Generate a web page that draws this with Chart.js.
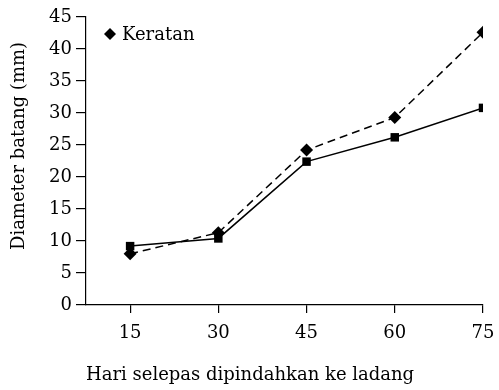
<!DOCTYPE html>
<html>
<head>
<meta charset="utf-8">
<script src="https://cdn.jsdelivr.net/npm/chart.js@4/dist/chart.umd.min.js"></script>
<style>
  html, body { margin: 0; padding: 0; background: #fff; }
  #wrap { width: 499px; height: 390px; position: relative; }
</style>
</head>
<body>
<div id="wrap"><canvas id="c"></canvas></div>
<script>
// data
const days = [15, 30, 45, 60, 75];
const keratan = [8.0, 11.3, 24.2, 29.3, 42.6];
const lain = [9.2, 10.4, 22.4, 26.2, 30.8];
const yTicks = [0, 5, 10, 15, 20, 25, 30, 35, 40, 45];

const FONT = "'DejaVu Serif', serif";
const FS = 18;

// legend inside the plot (only Keratan), and the y title placed like the original
const extras = {
  id: 'extras',
  afterDraw(chart) {
    const ctx = chart.ctx;
    const ds = chart.data.datasets[0];
    const x = chart.chartArea.left + 24, y = 34;
    ctx.save();
    Chart.helpers.drawPoint(ctx, { pointStyle: 'rectRot', radius: 6, rotation: 0, borderWidth: 0 }, x, y);
    ctx.fillStyle = '#000';
    ctx.font = FS + 'px ' + FONT;
    ctx.textBaseline = 'middle';
    ctx.fillText(ds.label, x + 12, y + 1);

    ctx.translate(19, 146);
    ctx.rotate(-Math.PI / 2);
    ctx.textAlign = 'center';
    ctx.fillText('Diameter batang (mm)', 0, 0);
    ctx.restore();
  }
};

new Chart(document.getElementById('c'), {
  type: 'line',
  data: {
    datasets: [
      {
        label: 'Keratan',
        data: days.map((d, i) => ({ x: d, y: keratan[i] })),
        borderColor: '#000',
        backgroundColor: '#000',
        borderWidth: 1.5,
        borderDash: [8, 5],
        pointStyle: 'rectRot',
        pointRadius: 6.5,
        pointBorderWidth: 0,
        tension: 0
      },
      {
        label: '',
        data: days.map((d, i) => ({ x: d, y: lain[i] })),
        borderColor: '#000',
        backgroundColor: '#000',
        borderWidth: 1.5,
        pointStyle: 'rect',
        pointRadius: 6,
        pointBorderWidth: 0,
        tension: 0
      }
    ]
  },
  options: {
    responsive: true,
    maintainAspectRatio: false,
    animation: false,
    layout: { padding: { top: 17, right: 16, left: 0, bottom: 0 } },
    plugins: {
      legend: { display: false },
      tooltip: { enabled: false }
    },
    scales: {
      x: {
        type: 'linear',
        min: 7.5,
        max: 75,
        afterBuildTicks: s => { s.ticks = days.map(v => ({ value: v })); },
        afterFit: s => { s.height = 85; s.paddingRight = 0; s.paddingLeft = 0; },
        grid: { drawOnChartArea: false, tickLength: 8, color: '#000', lineWidth: 1.2 },
        border: { color: '#000', width: 1.2 },
        ticks: { color: '#000', font: { family: FONT, size: FS }, padding: 10, maxRotation: 0 },
        title: { display: true, align: 'start', text: 'Hari selepas dipindahkan ke ladang', color: '#000', font: { family: FONT, size: FS }, padding: { top: 3 } }
      },
      y: {
        min: 0,
        max: 45,
        afterBuildTicks: s => { s.ticks = yTicks.map(v => ({ value: v })); },
        afterFit: s => { s.width = 86; },
        grid: { drawOnChartArea: false, tickLength: 10, color: '#000', lineWidth: 1.2 },
        border: { color: '#000', width: 1.2 },
        ticks: { color: '#000', font: { family: FONT, size: FS }, padding: 4 }
      }
    }
  },
  plugins: [extras]
});
</script>
</body>
</html>
